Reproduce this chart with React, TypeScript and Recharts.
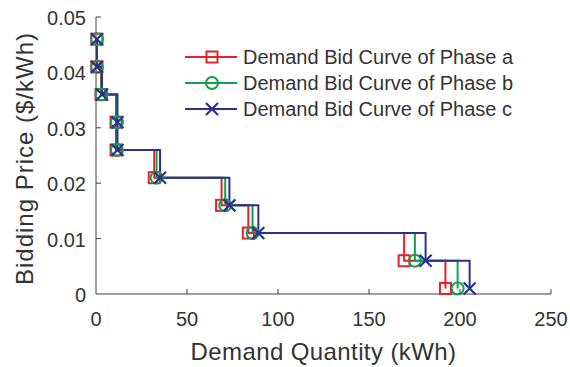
import React from "react";
import { LineChart, Line, XAxis, YAxis } from "recharts";

// bid price levels ($/kWh), shared by all three phases
const PRICE = [0.046, 0.041, 0.036, 0.031, 0.026, 0.021, 0.016, 0.011, 0.006, 0.001];
// demand quantity (kWh) at each price level
const QTY_A = [0.5, 0.5, 2.8, 11, 11, 32, 69, 83.7, 169.3, 192];
const QTY_B = [0.5, 0.5, 3, 11.5, 11.5, 33.3, 71, 86, 175.2, 198.7];
const QTY_C = [0.5, 0.5, 3.3, 11.8, 11.8, 35.2, 73.3, 89.2, 181.1, 205.3];

const X_TICKS = [0, 50, 100, 150, 200, 250];
const Y_TICKS = [0, 0.01, 0.02, 0.03, 0.04, 0.05];

const SERIES = [
  { name: "Demand Bid Curve of Phase a", color: "#e8202a", shape: "square", qty: QTY_A },
  { name: "Demand Bid Curve of Phase b", color: "#0fa24c", shape: "circle", qty: QTY_B },
  { name: "Demand Bid Curve of Phase c", color: "#2b3191", shape: "cross", qty: QTY_C },
];

const FONT = "'Liberation Sans', Arial, Helvetica, sans-serif";
const AXIS = "#404040";
const TEXT = "#333333";

function Marker({ shape, color, cx, cy }: { shape: string; color: string; cx: number; cy: number }) {
  if (shape === "square") {
    return <rect x={cx - 5.5} y={cy - 5.5} width={11} height={11} fill="none" stroke={color} strokeWidth={2} />;
  }
  if (shape === "circle") {
    return <circle cx={cx} cy={cy} r={6} fill="none" stroke={color} strokeWidth={2} />;
  }
  return (
    <g stroke={color} strokeWidth={2.2}>
      <line x1={cx - 6} y1={cy - 6} x2={cx + 6} y2={cy + 6} />
      <line x1={cx - 6} y1={cy + 6} x2={cx + 6} y2={cy - 6} />
    </g>
  );
}

function XTick(props: any) {
  const { x, y, payload } = props;
  return (
    <g>
      {payload.value !== 0 && <line x1={x} y1={y} x2={x} y2={y - 5} stroke={AXIS} strokeWidth={1} />}
      <text x={x} y={y + 32} textAnchor="middle" fontSize={20} fill={TEXT} fontFamily={FONT}>
        {String(payload.value)}
      </text>
    </g>
  );
}

function YTick(props: any) {
  const { x, y, payload } = props;
  return (
    <g>
      {payload.value !== 0 && <line x1={x} y1={y} x2={x + 5} y2={y} stroke={AXIS} strokeWidth={1} />}
      <text x={x - 10} y={y + 8} textAnchor="end" fontSize={20} fill={TEXT} fontFamily={FONT}>
        {String(payload.value)}
      </text>
    </g>
  );
}

function YLabel(props: any) {
  const { viewBox } = props;
  const cy = viewBox.y + viewBox.height / 2 + 3;
  return (
    <text
      x={24}
      y={cy}
      transform={`rotate(-90, 24, ${cy})`}
      textAnchor="middle"
      dominantBaseline="central"
      fontSize={24}
      letterSpacing={1}
      fill={TEXT}
      fontFamily={FONT}
    >
      Bidding Price ($/kWh)
    </text>
  );
}

function ChartLegend() {
  return (
    <svg width={360} height={90} style={{ position: "absolute", left: 180, top: 40 }}>
      {SERIES.map((s, i) => {
        const y = 17 + i * 26;
        return (
          <g key={s.name}>
            <line x1={5} y1={y} x2={57} y2={y} stroke={s.color} strokeWidth={2} />
            <Marker shape={s.shape} color={s.color} cx={32} cy={y} />
            <text x={63} y={y + 7} fontSize={20} fill={TEXT} fontFamily={FONT}>
              {s.name}
            </text>
          </g>
        );
      })}
    </svg>
  );
}

export default function App() {
  return (
    <div style={{ position: "absolute", left: 0, top: 0, width: 570, height: 367, background: "#fff" }}>
      <LineChart width={570} height={367} margin={{ top: 17, right: 19, bottom: 0, left: 0 }}>
        <XAxis
          type="number"
          dataKey="q"
          domain={[0, 250]}
          ticks={X_TICKS}
          height={73}
          stroke={AXIS}
          tickLine={false}
          tickSize={0}
          tickMargin={0}
          tick={<XTick />}
          label={{
            value: "Demand Quantity (kWh)",
            position: "insideBottom",
            offset: 7,
            fontSize: 24,
            fill: TEXT,
            fontFamily: FONT,
            letterSpacing: 0.4,
          }}
        />
        <YAxis
          type="number"
          dataKey="p"
          domain={[0, 0.05]}
          ticks={Y_TICKS}
          width={96}
          stroke={AXIS}
          tickLine={false}
          tickSize={0}
          tickMargin={0}
          tick={<YTick />}
          label={<YLabel />}
        />
        {SERIES.map((s) => (
          <Line
            key={s.name}
            name={s.name}
            data={s.qty.map((q, i) => ({ q, p: PRICE[i] }))}
            dataKey="p"
            type="stepAfter"
            stroke={s.color}
            strokeWidth={2}
            isAnimationActive={false}
            dot={(d: any) => (
              <Marker key={`${s.shape}-${d.index}`} shape={s.shape} color={s.color} cx={d.cx} cy={d.cy} />
            )}
          />
        ))}
      </LineChart>
      <ChartLegend />
    </div>
  );
}
